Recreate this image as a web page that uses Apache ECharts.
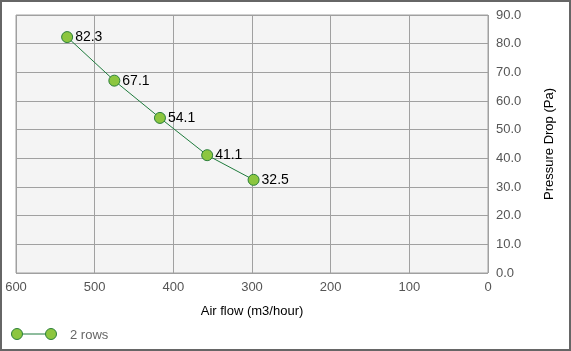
<!DOCTYPE html>
<html>
<head>
<meta charset="utf-8">
<script src="https://cdn.jsdelivr.net/npm/echarts@6/dist/echarts.min.js"></script>
<style>html,body{margin:0;padding:0;background:#fff;}#c{width:571px;height:351px;}</style>
</head>
<body>
<div id="c"></div>
<script>
var seriesName = '2 rows';
var airFlow = [535, 475, 417, 357, 298];
var pressureDrop = [82.3, 67.1, 54.1, 41.1, 32.5];
var xTicks = [0, 100, 200, 300, 400, 500, 600];
var yTicks = [0, 10, 20, 30, 40, 50, 60, 70, 80, 90];

var data = airFlow.map(function (x, i) { return [x, pressureDrop[i]]; });
var chart = echarts.init(document.getElementById('c'), null, {renderer: 'canvas'});
var font = 'Arial, "Liberation Sans", sans-serif';
var lineColor = '#1e7b3c', fillColor = '#8cc63f', borderColor = '#2a7f3a';
chart.setOption({
  animation: false,
  textStyle: {fontFamily: font},
  grid: {left: 16, right: 83, top: 15, bottom: 78, show: true, backgroundColor: '#f4f4f4', borderColor: '#a0a0a0', borderWidth: 1},
  graphic: [
    {type: 'rect', shape: {x: 1, y: 1, width: 569, height: 349}, style: {fill: 'none', stroke: '#666', lineWidth: 2}, silent: true},
    {type: 'line', shape: {x1: 17, y1: 334, x2: 51, y2: 334}, style: {stroke: lineColor, lineWidth: 1}, silent: true, z: 10},
    {type: 'circle', shape: {cx: 17, cy: 334, r: 5.5}, style: {fill: fillColor, stroke: borderColor, lineWidth: 1}, silent: true, z: 11},
    {type: 'circle', shape: {cx: 51, cy: 334, r: 5.5}, style: {fill: fillColor, stroke: borderColor, lineWidth: 1}, silent: true, z: 11}
  ],
  legend: {
    left: 11, top: 322, itemWidth: 48, itemHeight: 14, itemGap: 10,
    icon: 'rect', itemStyle: {opacity: 0},
    textStyle: {color: '#666', fontSize: 13, fontFamily: font},
    data: [seriesName]
  },
  xAxis: {
    type: 'value', inverse: true, min: xTicks[0], max: xTicks[xTicks.length - 1], interval: 100, position: 'bottom',
    name: 'Air flow (m3/hour)', nameLocation: 'middle', nameGap: 32,
    nameTextStyle: {color: '#000', fontSize: 13, fontFamily: font},
    axisLine: {show: false}, axisTick: {show: false},
    axisLabel: {color: '#555', fontSize: 13, margin: 8, fontFamily: font},
    splitLine: {lineStyle: {color: '#a0a0a0'}}
  },
  yAxis: {
    type: 'value', position: 'right', min: yTicks[0], max: yTicks[yTicks.length - 1], interval: 10,
    name: 'Pressure Drop (Pa)', nameLocation: 'middle', nameGap: 55, nameRotate: 90,
    nameTextStyle: {color: '#000', fontSize: 13, fontFamily: font},
    axisLine: {show: false}, axisTick: {show: false},
    axisLabel: {color: '#555', fontSize: 13, margin: 8, fontFamily: font, formatter: function (v) { return v.toFixed(1); }},
    splitLine: {lineStyle: {color: '#a0a0a0'}}
  },
  series: [{
    name: seriesName, type: 'line', data: data,
    symbol: 'circle', symbolSize: 11,
    lineStyle: {color: lineColor, width: 1},
    itemStyle: {color: fillColor, borderColor: borderColor, borderWidth: 1},
    label: {show: true, position: 'right', distance: 2, color: '#000', fontSize: 14, fontFamily: font,
      formatter: function (p) { return p.value[1].toFixed(1); }}
  }]
});
</script>
</body>
</html>
